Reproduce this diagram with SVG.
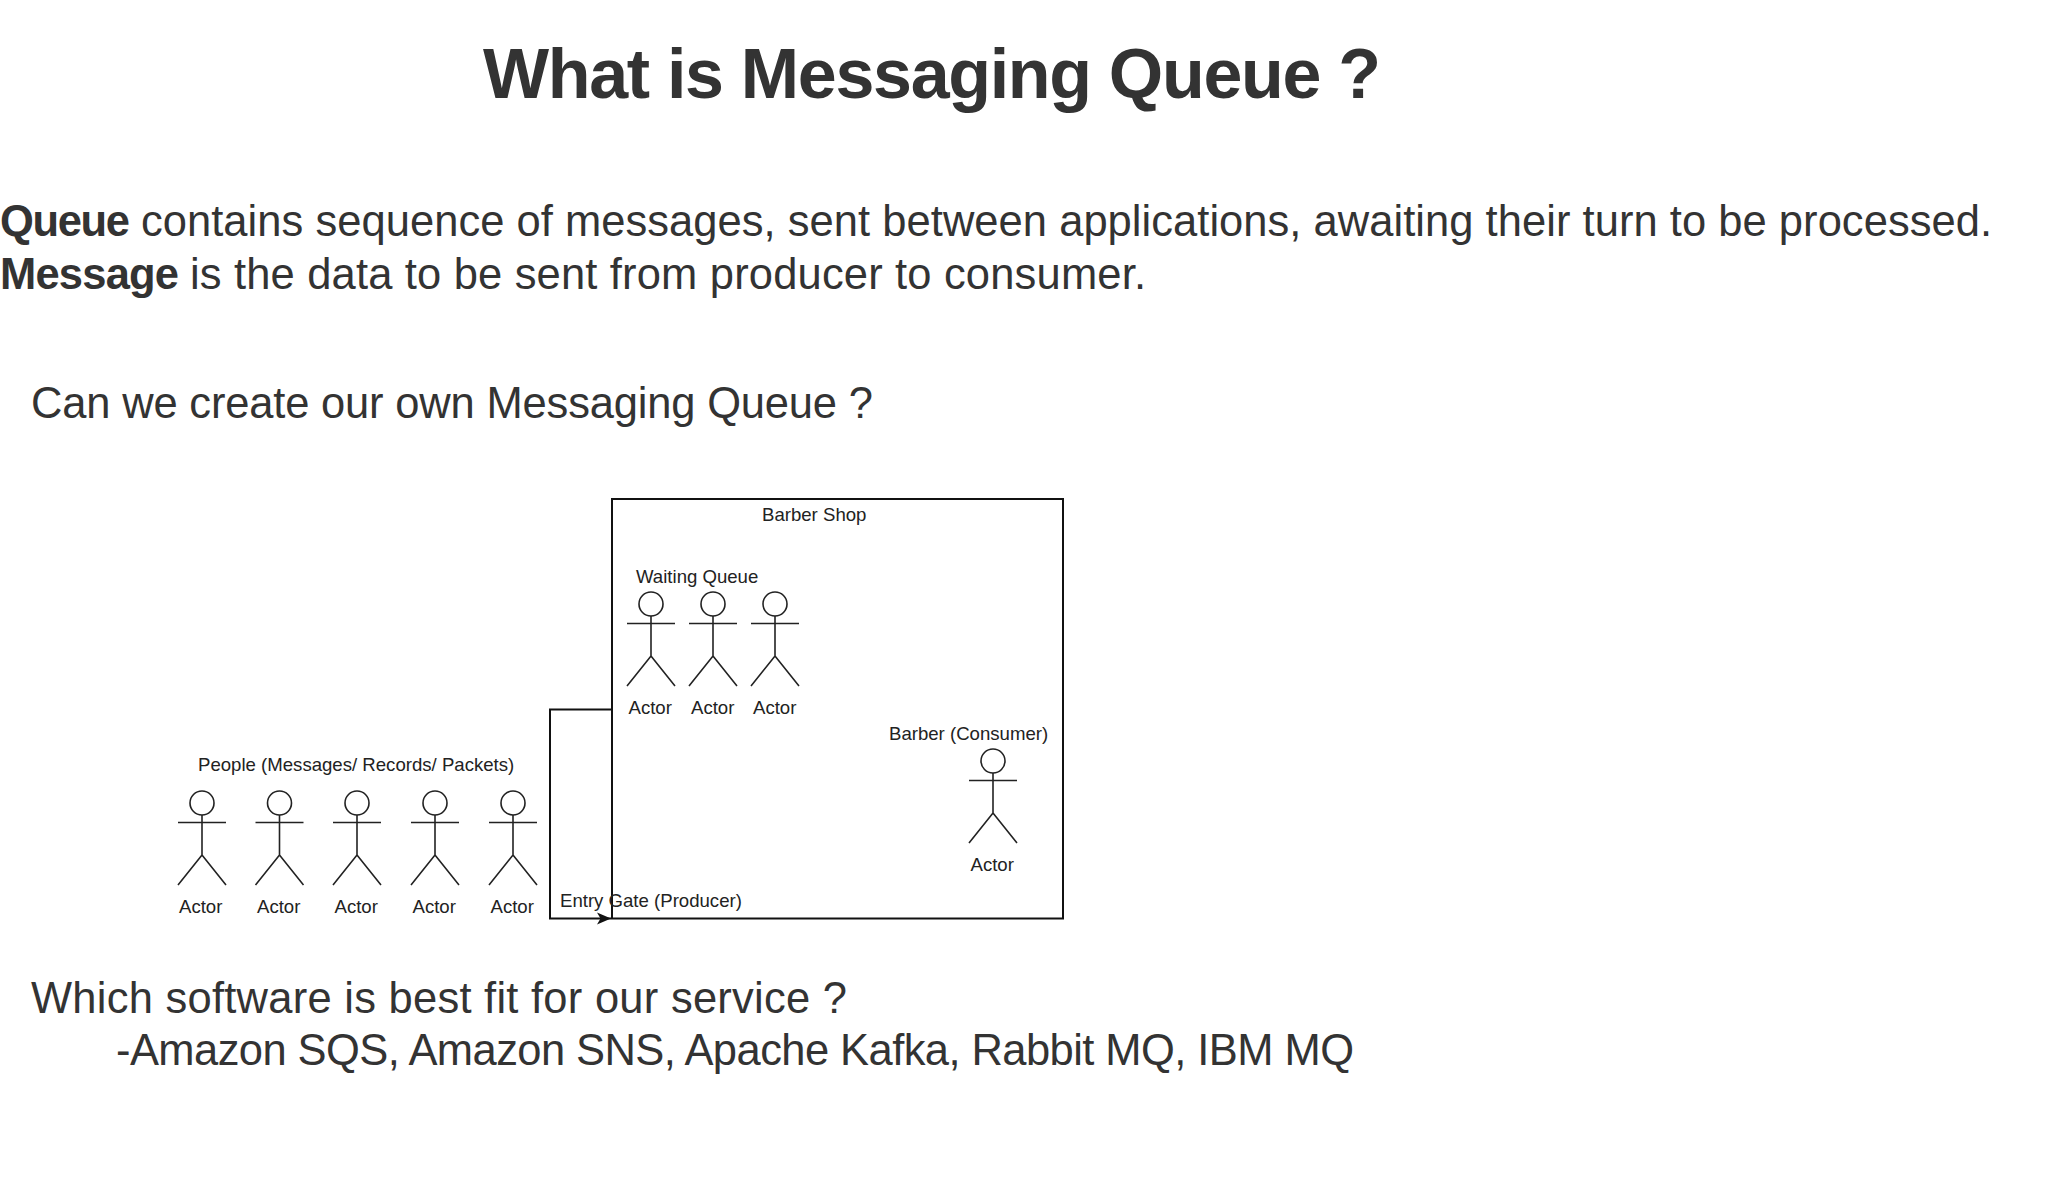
<svg xmlns="http://www.w3.org/2000/svg" width="2048" height="1179" viewBox="0 0 2048 1179">
<style>
text{font-family:"Liberation Sans",Arial,sans-serif}
.h{font-size:70px;font-weight:700;fill:#333}
.b{font-size:43.5px;fill:#333}
.bb{font-weight:700}
.l{font-size:18.6px;fill:#222}
.s{fill:none;stroke:#111;stroke-width:2}
.a{fill:#fff;stroke:#222;stroke-width:1.6}
.n{fill:none;stroke:#222;stroke-width:1.6}
</style>
<defs>
<g id="actor"><circle class="a" cx="0" cy="0" r="12"/><path class="n" d="M0 12V52M-24 19.500H24M-24 82L0 52L24 82"/></g>
<marker id="arr" markerWidth="18" markerHeight="16" refX="14" refY="8" orient="auto" markerUnits="userSpaceOnUse"><path d="M0 2L14 8L0 14L3.500 8Z" fill="#111"/></marker>
</defs>
<rect width="2048" height="1179" fill="#fff"/>
<text class="h" x="483" y="98" textLength="898">What is Messaging Queue ?</text>
<text class="b bb" x="0" y="236" textLength="130">Queue</text>
<text class="b" x="141" y="236" textLength="1851">contains sequence of messages, sent between applications, awaiting their turn to be processed.</text>
<text class="b bb" x="0" y="289" textLength="179">Message</text>
<text class="b" x="190" y="289" textLength="956">is the data to be sent from producer to consumer.</text>
<text class="b" x="31" y="418" textLength="842">Can we create our own Messaging Queue ?</text>
<text class="b" x="31" y="1013" textLength="816">Which software is best fit for our service ?</text>
<text class="b" x="116" y="1065" textLength="1238">-Amazon SQS, Amazon SNS, Apache Kafka, Rabbit MQ, IBM MQ</text>
<g id="barber-shop"><rect class="s" x="612" y="499" width="451" height="419.500"/><text class="l" x="762" y="521">Barber Shop</text></g>
<g id="waiting-queue-label"><text class="l" x="636" y="583">Waiting Queue</text></g>
<g id="people-label"><text class="l" x="198" y="771">People (Messages/ Records/ Packets)</text></g>
<g id="barber-label"><text class="l" x="889" y="740">Barber (Consumer)</text></g>
<g id="entry-label"><text class="l" x="560" y="907">Entry Gate (Producer)</text></g>
<g id="p1"><use href="#actor" x="202" y="803"/><text class="l" x="179" y="913">Actor</text></g>
<g id="p2"><use href="#actor" x="279.500" y="803"/><text class="l" x="257" y="913">Actor</text></g>
<g id="p3"><use href="#actor" x="357" y="803"/><text class="l" x="334.500" y="913">Actor</text></g>
<g id="p4"><use href="#actor" x="435" y="803"/><text class="l" x="412.500" y="913">Actor</text></g>
<g id="p5"><use href="#actor" x="513" y="803"/><text class="l" x="490.500" y="913">Actor</text></g>
<g id="w1"><use href="#actor" x="651" y="604"/><text class="l" x="628.500" y="714">Actor</text></g>
<g id="w2"><use href="#actor" x="713" y="604"/><text class="l" x="691" y="714">Actor</text></g>
<g id="w3"><use href="#actor" x="775" y="604"/><text class="l" x="753" y="714">Actor</text></g>
<g id="barber"><use href="#actor" x="993" y="761"/><text class="l" x="970.500" y="871">Actor</text></g>
<g id="connectors"><path class="s" d="M612 709.500H550V918.500H611" marker-end="url(#arr)"/></g>
</svg>
